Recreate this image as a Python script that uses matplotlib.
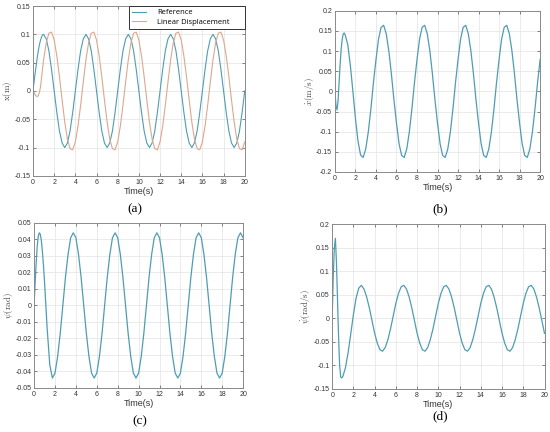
import numpy as np
import matplotlib
matplotlib.use("Agg")
import matplotlib.pyplot as plt

plt.rcParams['font.family'] = ['Liberation Sans', 'DejaVu Sans']
plt.rcParams['mathtext.fontset'] = 'cm'
plt.rcParams['axes.unicode_minus'] = False

# sample times (s): fine at the start, then every 0.25 s
time_s = [0.0, 0.1, 0.2, 0.3, 0.4, 0.5, 0.6, 0.7, 0.8, 0.9, 1.0] + \
    list(np.round(np.arange(1.25, 20.001, 0.25), 2))

# (a) x reference and linear displacement (m)
x_ref = [0.0, 0.016, 0.031, 0.045, 0.059, 0.071, 0.081, 0.089, 0.095, 0.099, 0.100,
         0.092, 0.071, 0.038, 0.0, -0.038, -0.071, -0.092, -0.100, -0.092, -0.071, -0.038, 0.0, 0.038, 0.071, 0.092, 0.100,
         0.092, 0.071, 0.038, 0.0, -0.038, -0.071, -0.092, -0.100, -0.092, -0.071, -0.038, 0.0, 0.038, 0.071, 0.092, 0.100,
         0.092, 0.071, 0.038, 0.0, -0.038, -0.071, -0.092, -0.100, -0.092, -0.071, -0.038, 0.0, 0.038, 0.071, 0.092, 0.100,
         0.092, 0.071, 0.038, 0.0, -0.038, -0.071, -0.092, -0.100, -0.092, -0.071, -0.038, 0.0, 0.038, 0.071, 0.092, 0.100,
         0.092, 0.071, 0.038, 0.0, -0.038, -0.071, -0.092, -0.100, -0.092, -0.071, -0.038, 0.0]
x_lin = [0.0, -0.003, -0.007, -0.009, -0.010, -0.008, -0.003, 0.006, 0.022, 0.039, 0.055,
         0.085, 0.102, 0.104, 0.090, 0.062, 0.025, -0.016, -0.055, -0.085, -0.102, -0.104, -0.090, -0.062, -0.025, 0.016, 0.055,
         0.085, 0.102, 0.104, 0.090, 0.062, 0.025, -0.016, -0.055, -0.085, -0.102, -0.104, -0.090, -0.062, -0.025, 0.016, 0.055,
         0.085, 0.102, 0.104, 0.090, 0.062, 0.025, -0.016, -0.055, -0.085, -0.102, -0.104, -0.090, -0.062, -0.025, 0.016, 0.055,
         0.085, 0.102, 0.104, 0.090, 0.062, 0.025, -0.016, -0.055, -0.085, -0.102, -0.104, -0.090, -0.062, -0.025, 0.016, 0.055,
         0.085, 0.102, 0.104, 0.090, 0.062, 0.025, -0.016, -0.055, -0.085, -0.102, -0.104, -0.090]

# (b) x dot (m/s)
x_dot = [0.0, -0.035, -0.046, -0.025, 0.020, 0.066, 0.103, 0.128, 0.142, 0.145, 0.140,
         0.116, 0.065, 0.0, -0.068, -0.124, -0.158,
         -0.164, -0.143, -0.101, -0.044, 0.021, 0.079, 0.130, 0.159, 0.164, 0.143, 0.101, 0.044, -0.021, -0.079, -0.130, -0.159,
         -0.164, -0.143, -0.101, -0.044, 0.021, 0.079, 0.130, 0.159, 0.164, 0.143, 0.101, 0.044, -0.021, -0.079, -0.130, -0.159,
         -0.164, -0.143, -0.101, -0.044, 0.021, 0.079, 0.130, 0.159, 0.164, 0.143, 0.101, 0.044, -0.021, -0.079, -0.130, -0.159,
         -0.164, -0.143, -0.101, -0.044, 0.021, 0.079, 0.130, 0.159, 0.164, 0.143, 0.101, 0.044, -0.021, -0.079, -0.130, -0.159,
         -0.164, -0.143, -0.101, -0.044, 0.021, 0.079]

# (c) psi (rad)
psi = [0.0, 0.014, 0.026, 0.036, 0.042, 0.044, 0.043, 0.039, 0.032, 0.024, 0.014,
       -0.014, -0.036, -0.044,
       -0.041, -0.031, -0.017, 0.0, 0.017, 0.031, 0.041, 0.044, 0.041, 0.031, 0.017, 0.0, -0.017, -0.031, -0.041, -0.044,
       -0.041, -0.031, -0.017, 0.0, 0.017, 0.031, 0.041, 0.044, 0.041, 0.031, 0.017, 0.0, -0.017, -0.031, -0.041, -0.044,
       -0.041, -0.031, -0.017, 0.0, 0.017, 0.031, 0.041, 0.044, 0.041, 0.031, 0.017, 0.0, -0.017, -0.031, -0.041, -0.044,
       -0.041, -0.031, -0.017, 0.0, 0.017, 0.031, 0.041, 0.044, 0.041, 0.031, 0.017, 0.0, -0.017, -0.031, -0.041, -0.044,
       -0.041, -0.031, -0.017, 0.0, 0.017, 0.031, 0.041, 0.044, 0.041]

# (d) psi dot (rad/s)
psi_dot = [0.0, 0.09, 0.15, 0.17, 0.12, 0.04, -0.04, -0.10, -0.125, -0.127, -0.124,
           -0.105, -0.073, -0.033, 0.008, 0.043, 0.064,
           0.070, 0.062, 0.045, 0.022, -0.005, -0.032, -0.053, -0.067, -0.070, -0.062, -0.045, -0.022, 0.005, 0.032, 0.053, 0.067,
           0.070, 0.062, 0.045, 0.022, -0.005, -0.032, -0.053, -0.067, -0.070, -0.062, -0.045, -0.022, 0.005, 0.032, 0.053, 0.067,
           0.070, 0.062, 0.045, 0.022, -0.005, -0.032, -0.053, -0.067, -0.070, -0.062, -0.045, -0.022, 0.005, 0.032, 0.053, 0.067,
           0.070, 0.062, 0.045, 0.022, -0.005, -0.032, -0.053, -0.067, -0.070, -0.062, -0.045, -0.022, 0.005, 0.032, 0.053, 0.067,
           0.070, 0.062, 0.045, 0.022, -0.005, -0.032]

x_ticks = [0, 2, 4, 6, 8, 10, 12, 14, 16, 18, 20]
yticks_a = [-0.15, -0.1, -0.05, 0, 0.05, 0.1, 0.15]
yticks_b = [-0.2, -0.15, -0.1, -0.05, 0, 0.05, 0.1, 0.15, 0.2]
yticks_c = [-0.05, -0.04, -0.03, -0.02, -0.01, 0, 0.01, 0.02, 0.03, 0.04, 0.05]
yticks_d = [-0.15, -0.1, -0.05, 0, 0.05, 0.1, 0.15, 0.2]

BLUE = '#4e9db3'
ORANGE = '#dca88e'

fig = plt.figure(figsize=(5.5, 4.32), dpi=100)


def style(ax, yticks, ylabel):
    ax.set_xlim(0, 20)
    ax.set_ylim(yticks[0], yticks[-1])
    ax.set_xticks(x_ticks)
    ax.set_yticks(yticks)
    ax.set_yticklabels(['%g' % v for v in yticks])
    ax.grid(True, color='#e3e3e3', linewidth=0.5)
    ax.set_axisbelow(True)
    ax.tick_params(direction='in', length=2, width=0.5, labelsize=5,
                   colors='#555555', labelcolor='#333333', pad=2,
                   top=True, right=True)
    for s in ax.spines.values():
        s.set_color('#8a8a8a')
        s.set_linewidth(0.7)
    ax.set_xlabel('Time(s)', fontsize=6.5, color='#333333', labelpad=1)
    ax.set_ylabel(ylabel, fontsize=6.5, color='#444444', labelpad=0)


ax_a = fig.add_axes([0.060, 0.593, 0.385, 0.393])
ax_a.plot(time_s, x_ref, color=BLUE, linewidth=0.8, label='Reference')
ax_a.plot(time_s, x_lin, color=ORANGE, linewidth=0.8, label='Linear Displacement')
style(ax_a, yticks_a, r'$\mathrm{x(m)}$')
leg = ax_a.legend(loc='upper left', bbox_to_anchor=(0.455, 0.86, 0.545, 0.14),
                  mode='expand', borderaxespad=0,
                  prop={'family': 'Open Sans', 'size': 5.5},
                  fancybox=False, edgecolor='#333333', framealpha=1,
                  handlelength=1.8, handletextpad=1.4, borderpad=0.4,
                  labelspacing=0.3)
leg.get_frame().set_linewidth(0.7)

ax_b = fig.add_axes([0.609, 0.602, 0.373, 0.373])
ax_b.plot(time_s, x_dot, color=BLUE, linewidth=0.9)
style(ax_b, yticks_b, r'$\dot{x}(\mathrm{m/s})$')

ax_c = fig.add_axes([0.062, 0.102, 0.380, 0.382])
ax_c.plot(time_s, psi, color=BLUE, linewidth=0.9)
style(ax_c, yticks_c, r'$\psi(\mathrm{rad})$')

ax_d = fig.add_axes([0.604, 0.100, 0.386, 0.381])
ax_d.plot(time_s, psi_dot, color=BLUE, linewidth=0.9)
style(ax_d, yticks_d, r'$\dot{\psi}(\mathrm{rad/s})$')

serif = ['Liberation Serif', 'DejaVu Serif']
fig.text(0.245, 0.516, '(a)', fontsize=9.5, family=serif, ha='center', va='center')
fig.text(0.800, 0.516, '(b)', fontsize=9.5, family=serif, ha='center', va='center')
fig.text(0.255, 0.025, '(c)', fontsize=9.5, family=serif, ha='center', va='center')
fig.text(0.800, 0.037, '(d)', fontsize=9.5, family=serif, ha='center', va='center')

fig.savefig('out.png', dpi=100)
